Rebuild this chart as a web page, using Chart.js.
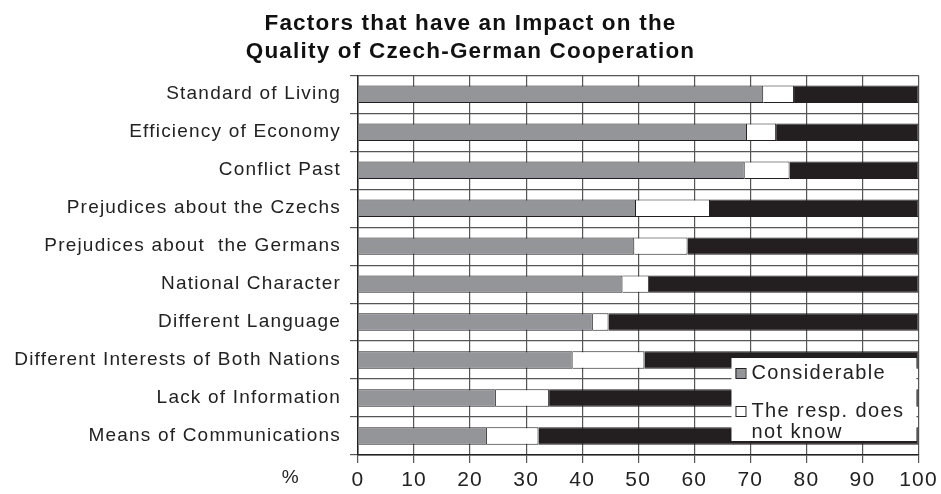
<!DOCTYPE html>
<html>
<head>
<meta charset="utf-8">
<script src="https://cdn.jsdelivr.net/npm/chart.js@4/dist/chart.umd.min.js"></script>
<style>
  html, body { margin: 0; padding: 0; background: #fff; }
  #wrap { width: 941px; height: 494px; }
</style>
</head>
<body>
<div id="wrap"><canvas id="chart" width="941" height="494"></canvas></div>
<script>
// -------- Data --------
const categories = [
    "Standard of Living",
    "Efficiency of Economy",
    "Conflict Past",
    "Prejudices about the Czechs",
    "Prejudices about  the Germans",
    "National Character",
    "Different Language",
    "Different Interests of Both Nations",
    "Lack of Information",
    "Means of Communications"
];

const considerable = [72.3, 69.4, 69.0, 49.6, 49.3, 47.2, 41.9, 38.3, 24.6, 23.0];
const dontKnow     = [5.5, 5.2, 8.0, 13.2, 9.5, 4.7, 2.8, 12.8, 9.5, 9.2];
const negligible   = [22.2, 25.4, 23.0, 37.2, 41.2, 48.1, 55.3, 48.9, 65.9, 67.8];

const xTicks = [0, 10, 20, 30, 40, 50, 60, 70, 80, 90, 100];

const FONT = "'Liberation Sans', Arial, sans-serif";

// -------- a bit of letter spacing like the original print --------
const spacing = {
    id: "spacing",
    beforeDraw(chart){
        chart.ctx.letterSpacing = "1.2px";
    }
};

// -------- Legend box inside the plot + "%" label --------
const extras = {
    id: "extras",
    afterDraw(chart){
        const ctx = chart.ctx;
        const area = chart.chartArea;
        const ds = chart.data.datasets;

        // legend box (white, no border)
        const bx = area.right - 187, by = area.bottom - 97, bw = 185, bh = 83;
        ctx.save();
        ctx.fillStyle = "#fff";
        ctx.fillRect(bx, by, bw, bh);

        ctx.letterSpacing = "1.4px";
        ctx.font = "20px " + FONT;
        ctx.textBaseline = "middle";
        const items = [
            { ds: ds[0], lines: ["Considerable"], y: by + 15 },
            { ds: ds[1], lines: ["The resp. does", "not know"], y: by + 53 }
        ];
        items.forEach(function(it){
            ctx.fillStyle = it.ds.backgroundColor;
            ctx.fillRect(bx + 4, it.y - 5, 10, 10);
            ctx.strokeStyle = "#222";
            ctx.lineWidth = 1;
            ctx.strokeRect(bx + 4.5, it.y - 4.5, 10, 10);
            ctx.fillStyle = "#222";
            it.lines.forEach(function(t, i){
                ctx.fillText(t, bx + 20, it.y + i * 21);
            });
        });

        // "%" label left of the x ticks
        ctx.font = "19px " + FONT;
        ctx.textAlign = "center";
        ctx.fillText("%", 291, 478);
        ctx.restore();
    }
};

window.onload = function(){

    const ctx = document.getElementById("chart").getContext("2d");

    new Chart(ctx, {
        type: "bar",
        data: {
            labels: categories,
            datasets: [
                { label: "Considerable", data: considerable, backgroundColor: "#939598" },
                { label: "The resp. does not know", data: dontKnow, backgroundColor: "#ffffff" },
                { label: "Negligible", data: negligible, backgroundColor: "#231f20" }
            ].map(function(d){
                d.borderColor = "#231f20";
                d.borderWidth = 1;
                d.barPercentage = 0.46;
                d.categoryPercentage = 1;
                return d;
            })
        },
        options: {
            indexAxis: "y",
            responsive: false,
            animation: false,
            layout: { padding: 0 },
            plugins: {
                legend: { display: false },
                tooltip: { enabled: false },
                title: {
                    display: true,
                    text: ["Factors that have an Impact on the", "Quality of Czech-German Cooperation"],
                    color: "#111",
                    font: { family: FONT, size: 22.5, weight: "bold", lineHeight: 1.25 },
                    padding: { top: 10, bottom: 9 }
                }
            },
            scales: {
                x: {
                    stacked: true,
                    min: 0,
                    max: 100,
                    afterBuildTicks: function(scale){
                        scale.ticks = xTicks.map(function(v){ return { value: v }; });
                    },
                    afterFit: function(scale){ scale.height = 39; },
                    grid: { color: "#555", lineWidth: 1.2, tickLength: 8, drawTicks: true },
                    border: { color: "#222", width: 1.5 },
                    ticks: { color: "#222", padding: 5, maxRotation: 0, autoSkip: false,
                             font: { family: FONT, size: 21 } }
                },
                y: {
                    stacked: true,
                    afterFit: function(scale){ scale.width = 358; },
                    grid: { color: "#555", lineWidth: 1.2, tickLength: 8, offset: true },
                    border: { color: "#222", width: 1.5 },
                    ticks: { color: "#222", padding: 9, autoSkip: false,
                             font: { family: FONT, size: 19 } }
                }
            }
        },
        plugins: [spacing, extras]
    });

};
</script>
</body>
</html>
